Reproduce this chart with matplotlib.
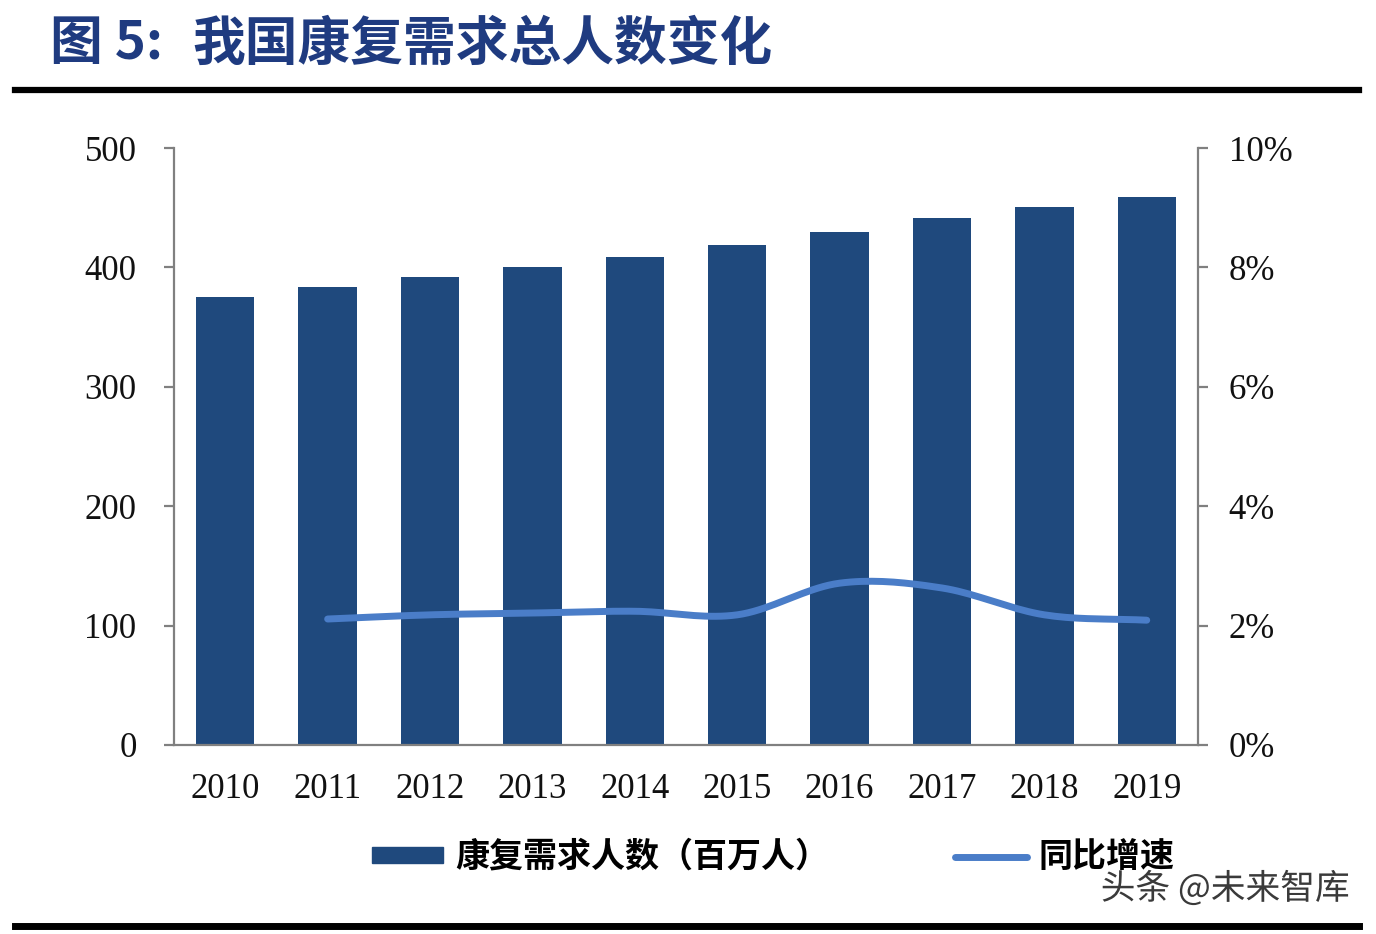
import numpy as np
import matplotlib
matplotlib.use("Agg")
import matplotlib.pyplot as plt
import matplotlib.patheffects as pe
from matplotlib.lines import Line2D
from matplotlib.patches import Patch

plt.rcParams['font.family'] = ['Noto Sans CJK SC', 'DejaVu Sans']

# 数据
years = ['2010', '2011', '2012', '2013', '2014', '2015', '2016', '2017', '2018', '2019']
demand = [375, 384, 392, 400, 409, 419, 430, 441, 451, 459]          # 百万人
growth = [None, 2.11, 2.18, 2.21, 2.24, 2.18, 2.71, 2.63, 2.18, 2.09]  # %
left_ticks = [0, 100, 200, 300, 400, 500]
right_ticks = [0, 2, 4, 6, 8, 10]

bar_color = '#1f497d'
line_color = '#4a7dc8'
title_color = '#1f3b80'
spine_color = '#808080'
serif = ['Liberation Serif', 'DejaVu Serif']


def smooth(xs, ys, n=20):
    # Catmull-Rom 平滑曲线
    xs = np.asarray(xs, float)
    ys = np.asarray(ys, float)
    px = np.concatenate([[2 * xs[0] - xs[1]], xs, [2 * xs[-1] - xs[-2]]])
    py = np.concatenate([[2 * ys[0] - ys[1]], ys, [2 * ys[-1] - ys[-2]]])
    out_x, out_y = [], []
    t = np.linspace(0, 1, n)
    for i in range(1, len(px) - 2):
        for p, out in ((px, out_x), (py, out_y)):
            p0, p1, p2, p3 = p[i - 1], p[i], p[i + 1], p[i + 2]
            out.extend(0.5 * (2 * p1 + (-p0 + p2) * t + (2 * p0 - 5 * p1 + 4 * p2 - p3) * t ** 2
                              + (-p0 + 3 * p1 - 3 * p2 + p3) * t ** 3))
    return np.array(out_x), np.array(out_y)


fig = plt.figure(figsize=(13.76, 9.34), dpi=100)
ax = fig.add_axes([0.1265, 0.2024, 0.7441, 0.6391])
ax2 = ax.twinx()

x = np.arange(len(years))
ax.bar(x, demand, width=0.57, color=bar_color, zorder=2)

gx = [i for i, g in enumerate(growth) if g is not None]
gy = [g for g in growth if g is not None]
sx, sy = smooth(gx, gy)
ax2.plot(sx, sy, color=line_color, lw=5, solid_capstyle='round', zorder=3)

ax.set_xlim(-0.5, len(years) - 0.5)
ax.set_ylim(0, 500)
ax2.set_ylim(0, 10)
ax.set_yticks(left_ticks)
ax2.set_yticks(right_ticks)
ax2.set_yticklabels([f'{v}%' for v in right_ticks])
ax.set_xticks(x)
ax.set_xticklabels(years)

for a in (ax, ax2):
    for s in a.spines.values():
        s.set_visible(False)
    a.patch.set_visible(False)
ax.spines['left'].set_visible(True)
ax.spines['bottom'].set_visible(True)
ax2.spines['right'].set_visible(True)
for s in (ax.spines['left'], ax.spines['bottom'], ax2.spines['right']):
    s.set_color(spine_color)
    s.set_linewidth(1.6)

ax.tick_params(axis='y', direction='out', length=7, width=1.6, color=spine_color, pad=20)
ax2.tick_params(axis='y', direction='out', length=7, width=1.6, color=spine_color, pad=15)
ax.tick_params(axis='x', length=0, pad=20)
for lab in ax.get_yticklabels() + ax2.get_yticklabels() + ax.get_xticklabels():
    lab.set_fontfamily(serif)
    lab.set_fontsize(25)
    lab.set_color('#111111')

# 标题
fig.text(0.036, 0.953, '图 5:', fontsize=38, fontweight='bold',
         color=title_color, va='center', ha='left')
fig.text(0.140, 0.953, '我国康复需求总人数变化', fontsize=38, fontweight='bold',
         color=title_color, va='center', ha='left')
fig.add_artist(Line2D([0.011, 0.988], [0.904, 0.904], color='black', lw=4.5))
fig.add_artist(Line2D([0.011, 0.988], [0.009, 0.009], color='black', lw=5))

# 图例
handles = [Patch(color=bar_color),
           Line2D([0], [0], color=line_color, lw=5, solid_capstyle='round')]
fig.legend(handles, ['康复需求人数（百万人）', '同比增速'], loc='center',
           bbox_to_anchor=(0.562, 0.083), ncol=2, frameon=False, handlelength=2.1,
           handleheight=0.35, handletextpad=0.35, columnspacing=3.7,
           prop={'family': ['Noto Sans CJK SC', 'DejaVu Sans'], 'size': 24.5, 'weight': 'bold'})

# 水印
fig.text(0.981, 0.048, '头条 @未来智库', fontsize=25, color='#3a3a3a', ha='right', va='center',
         path_effects=[pe.withStroke(linewidth=3, foreground='white')])

fig.savefig('out.png', dpi=100, facecolor='white')
